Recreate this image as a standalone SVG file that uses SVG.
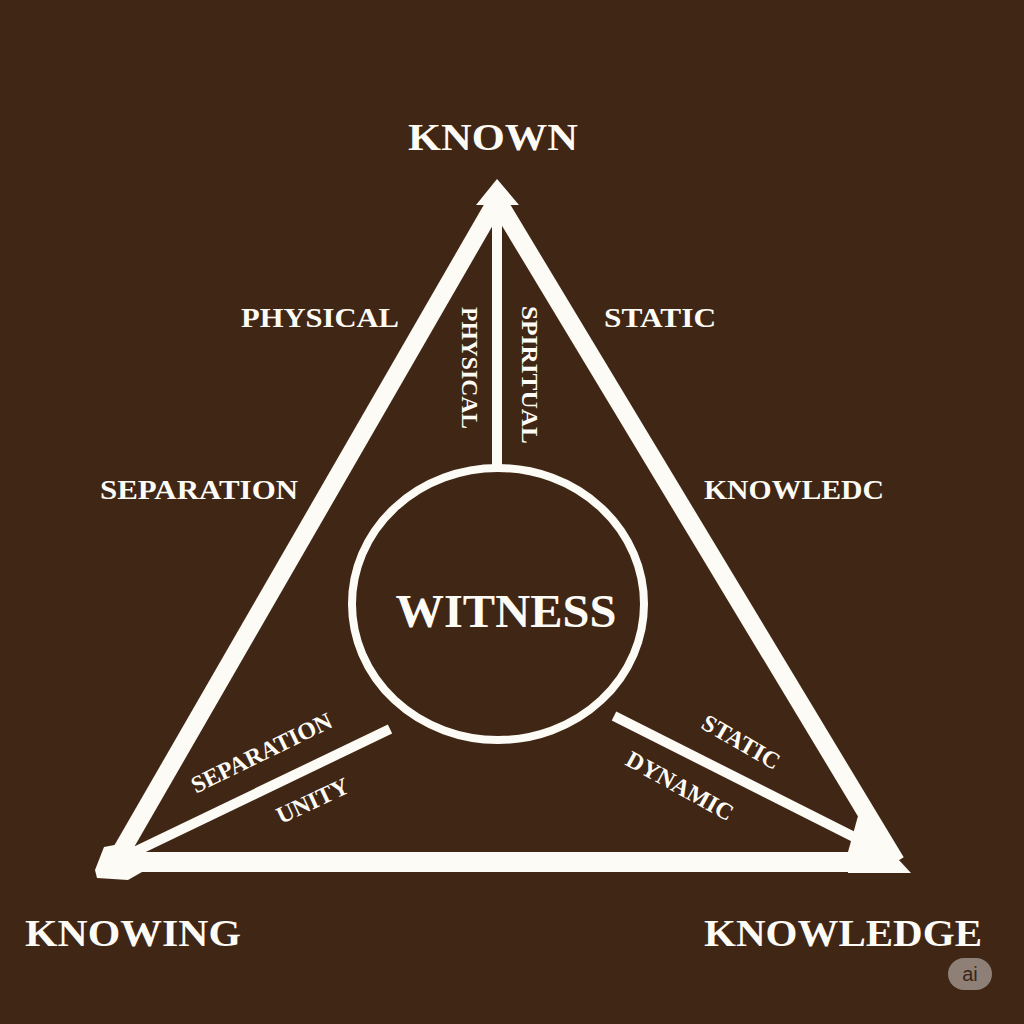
<svg xmlns="http://www.w3.org/2000/svg" width="1024" height="1024" viewBox="0 0 1024 1024">
  <style>
    .ln { stroke: #fdfbf6; fill: none; stroke-linecap: butt; }
    .lbl { font-family: "Liberation Serif", "DejaVu Serif", serif; font-weight: bold; fill: #fdfbf6; text-anchor: middle; }
    .fill { fill: #fdfbf6; }
  </style>
  <rect width="1024" height="1024" fill="#402614"/>
  <g id="connectors">
    <line class="ln" x1="497" y1="200" x2="114" y2="864" stroke-width="18"/>
    <line class="ln" x1="497" y1="200" x2="896" y2="862" stroke-width="18"/>
    <line class="ln" x1="118" y1="862" x2="880" y2="862" stroke-width="20"/>
    <line class="ln" x1="497" y1="205" x2="497" y2="468" stroke-width="10"/>
    <line class="ln" x1="390" y1="729" x2="128" y2="855" stroke-width="10"/>
    <line class="ln" x1="614" y1="716" x2="860" y2="840" stroke-width="10"/>
    <polygon class="fill" points="497,179 519,205 476,205"/>
    <polygon class="fill" points="95,870 104,847 130,842 142,852 142,872 128,880 97,878"/>
    <polygon class="fill" points="858,816 911,873 848,873 848,852"/>
  </g>
  <g id="node-witness">
    <ellipse cx="498" cy="604" rx="146" ry="136" fill="none" stroke="#fdfbf6" stroke-width="8"/>
    <text class="lbl" x="506" y="627" font-size="46" textLength="221" lengthAdjust="spacingAndGlyphs">WITNESS</text>
  </g>
  <g id="node-known"><text class="lbl" x="493" y="150" font-size="38" textLength="170" lengthAdjust="spacingAndGlyphs">KNOWN</text></g>
  <g id="node-knowing"><text class="lbl" x="133" y="946" font-size="38" textLength="216" lengthAdjust="spacingAndGlyphs">KNOWING</text></g>
  <g id="node-knowledge"><text class="lbl" x="843" y="946" font-size="38" textLength="278" lengthAdjust="spacingAndGlyphs">KNOWLEDGE</text></g>
  <g id="labels">
    <text class="lbl" x="320" y="327" font-size="27" textLength="158" lengthAdjust="spacingAndGlyphs">PHYSICAL</text>
    <text class="lbl" x="660" y="327" font-size="27" textLength="112" lengthAdjust="spacingAndGlyphs">STATIC</text>
    <text class="lbl" x="199" y="499" font-size="27" textLength="198" lengthAdjust="spacingAndGlyphs">SEPARATION</text>
    <text class="lbl" x="794" y="499" font-size="27" textLength="180" lengthAdjust="spacingAndGlyphs">KNOWLEDC</text>
    <text class="lbl" font-size="24" transform="translate(462,368) rotate(90)" textLength="122" lengthAdjust="spacingAndGlyphs">PHYSICAL</text>
    <text class="lbl" font-size="24" transform="translate(522,375) rotate(90)" textLength="138" lengthAdjust="spacingAndGlyphs">SPIRITUAL</text>
    <text class="lbl" font-size="24" transform="translate(265,760) rotate(-26)">SEPARATION</text>
    <text class="lbl" font-size="24" transform="translate(316,808) rotate(-25)">UNITY</text>
    <text class="lbl" font-size="24" transform="translate(737,749) rotate(30)">STATIC</text>
    <text class="lbl" font-size="24" transform="translate(676,793) rotate(29)">DYNAMIC</text>
  </g>
  <g id="badge">
    <rect x="948" y="958" width="44" height="32" rx="16" fill="#8e8076"/>
    <text x="970" y="981" font-family="Liberation Sans, sans-serif" font-size="20" fill="#3a2518" text-anchor="middle">ai</text>
  </g>
</svg>
